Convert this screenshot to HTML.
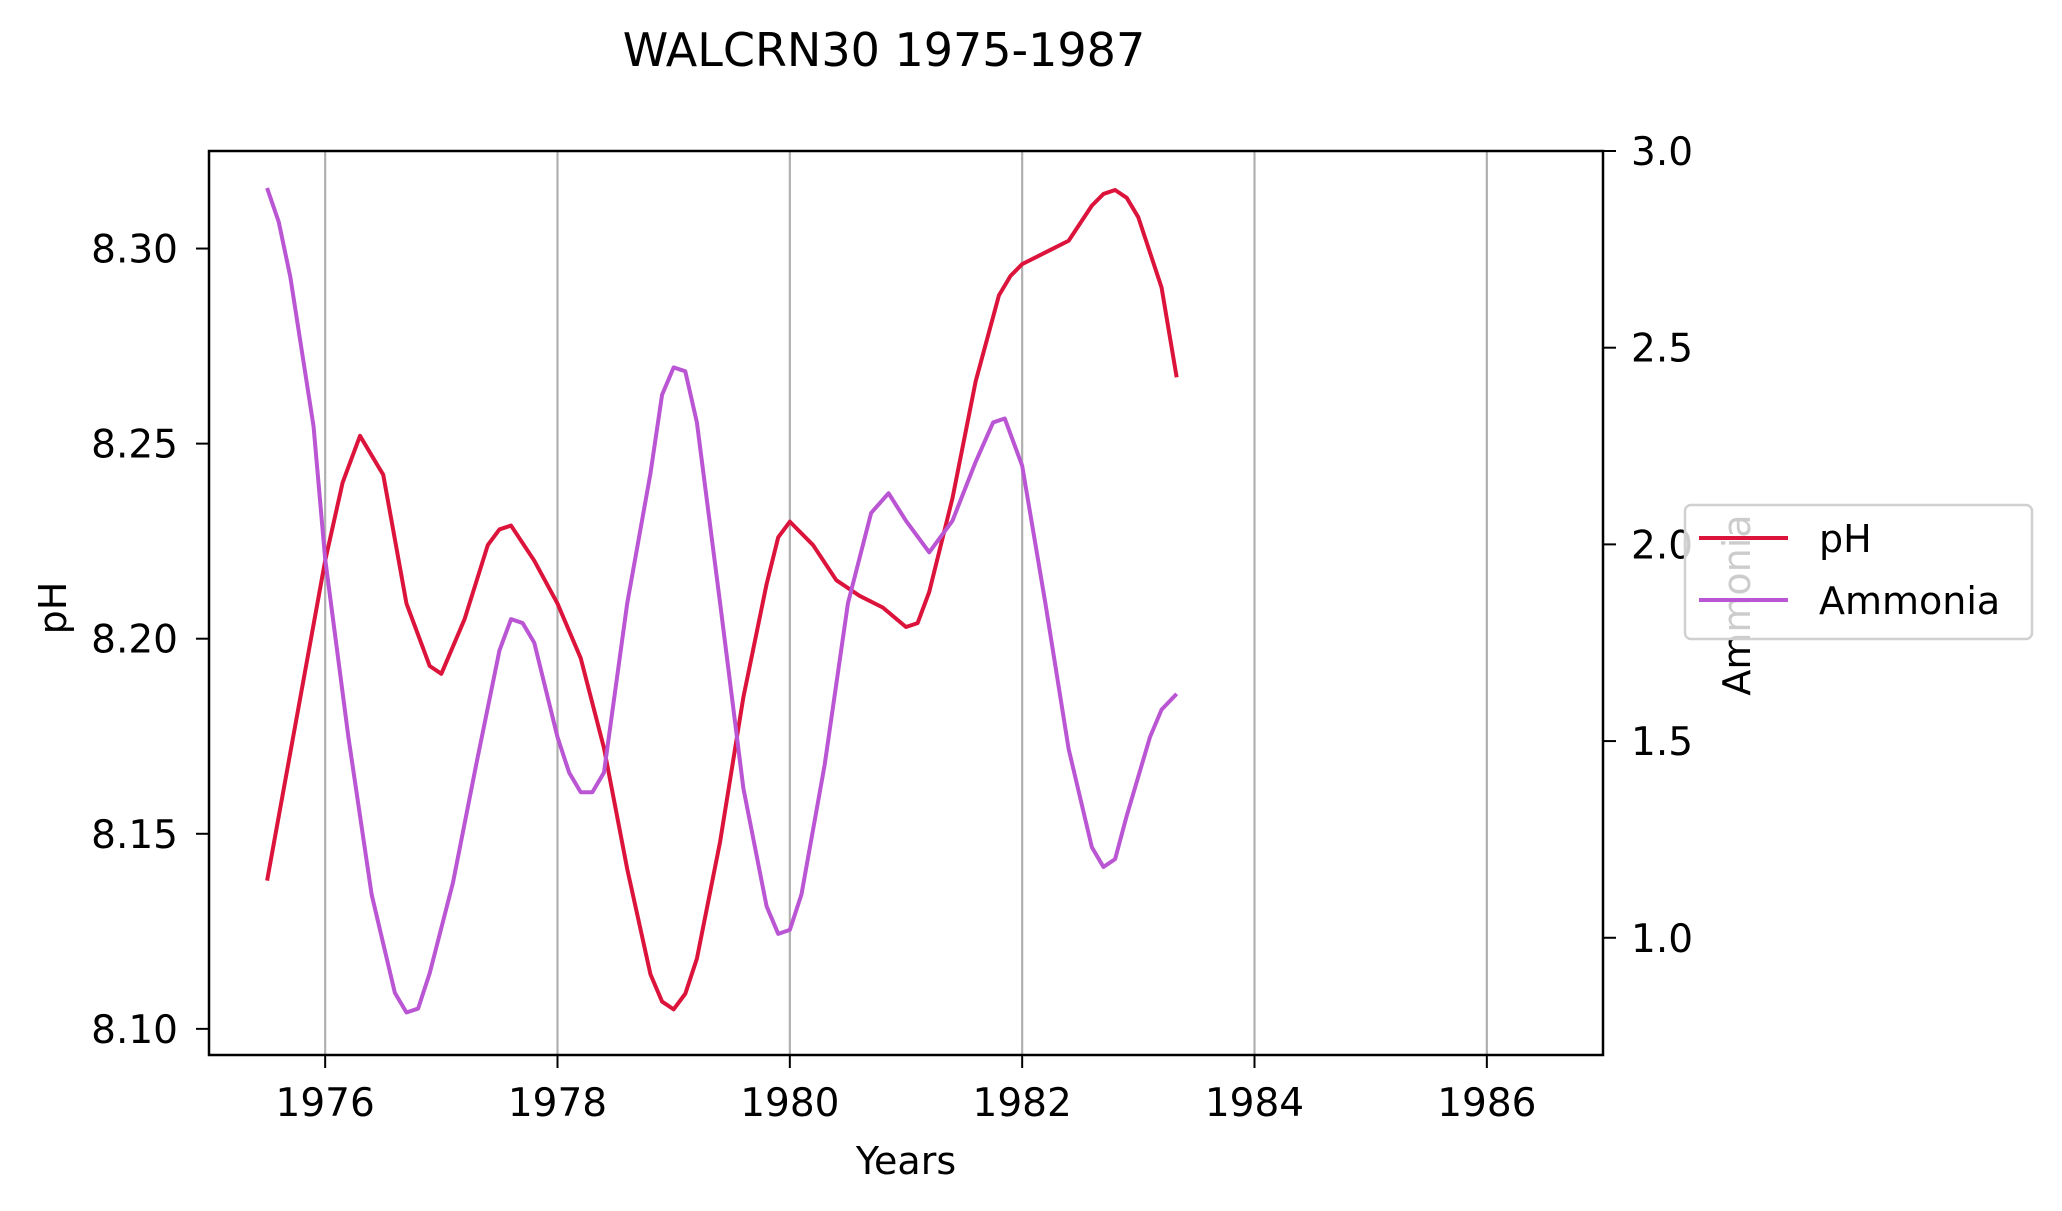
<!DOCTYPE html>
<html><head><meta charset="utf-8"><style>
html,body{margin:0;padding:0;background:#fff;}
svg{display:block;font-family:"DejaVu Sans","Liberation Sans",sans-serif;}
</style></head><body>
<svg id="chart" width="2062" height="1211" viewBox="0 0 2062 1211" xmlns="http://www.w3.org/2000/svg">
<rect width="2062" height="1211" fill="#fff"/>
<text x="884" y="66" font-size="46" text-anchor="middle">WALCRN30 1975-1987</text>
<g id="grid"></g>
<g id="series"></g>
<rect x="209" y="151" width="1394" height="904" fill="none" stroke="#000" stroke-width="2.5"/>
<g id="axes"></g>
<text x="906" y="1174" font-size="38" text-anchor="middle">Years</text>
<text transform="translate(66,608) rotate(-90)" font-size="38" text-anchor="middle">pH</text>
<text transform="translate(1750,605) rotate(-90)" font-size="38" text-anchor="middle">Ammonia</text>
<g>
<rect x="1685" y="505" width="347" height="134" rx="6" fill="rgba(255,255,255,0.8)" stroke="#d0d0d0" stroke-width="2.5"/>
<line x1="1699" y1="538" x2="1788" y2="538" stroke="#dc143c" stroke-width="4"/>
<text x="1819" y="552" font-size="38">pH</text>
<line x1="1699" y1="600" x2="1788" y2="600" stroke="#ba55d3" stroke-width="4"/>
<text x="1819" y="614" font-size="38">Ammonia</text>
</g>
</svg>
<script>
const years=[1975.5,1976.0,1976.15,1976.3,1976.5,1976.7,1976.9,1977.0,1977.2,1977.4,1977.5,1977.6,1977.8,1978.0,1978.2,1978.4,1978.6,1978.8,1978.9,1979.0,1979.1,1979.2,1979.4,1979.6,1979.8,1979.9,1980.0,1980.2,1980.4,1980.6,1980.8,1981.0,1981.1,1981.2,1981.4,1981.6,1981.8,1981.9,1982.0,1982.2,1982.4,1982.6,1982.7,1982.8,1982.9,1983.0,1983.2,1983.33];
const phValues=[8.138,8.220,8.240,8.252,8.242,8.209,8.193,8.191,8.205,8.224,8.228,8.229,8.220,8.209,8.195,8.172,8.141,8.114,8.107,8.105,8.109,8.118,8.148,8.185,8.214,8.226,8.230,8.224,8.215,8.211,8.208,8.203,8.204,8.212,8.236,8.266,8.288,8.293,8.296,8.299,8.302,8.311,8.314,8.315,8.313,8.308,8.290,8.267];
const nh3Years=[1975.5,1975.6,1975.7,1975.9,1976.0,1976.2,1976.4,1976.6,1976.7,1976.8,1976.9,1977.1,1977.3,1977.5,1977.6,1977.7,1977.8,1978.0,1978.1,1978.2,1978.3,1978.4,1978.6,1978.8,1978.9,1979.0,1979.1,1979.2,1979.4,1979.6,1979.8,1979.9,1980.0,1980.1,1980.3,1980.5,1980.7,1980.85,1981.0,1981.2,1981.4,1981.6,1981.75,1981.85,1982.0,1982.2,1982.4,1982.6,1982.7,1982.8,1982.9,1983.1,1983.2,1983.33];
const ammoniaValues=[2.906,2.82,2.68,2.30,1.963,1.51,1.11,0.86,0.81,0.82,0.91,1.14,1.44,1.73,1.81,1.80,1.75,1.51,1.42,1.37,1.37,1.42,1.85,2.18,2.38,2.45,2.44,2.31,1.85,1.38,1.08,1.01,1.02,1.11,1.44,1.85,2.08,2.13,2.06,1.98,2.06,2.21,2.31,2.32,2.20,1.85,1.48,1.23,1.18,1.20,1.31,1.51,1.58,1.62];
const xTicks=[1976,1978,1980,1982,1984,1986];
const phTicks=[8.10,8.15,8.20,8.25,8.30];
const nh3Ticks=[1.0,1.5,2.0,2.5,3.0];

const L=209,R=1603,T=151,B=1055;
const X=v=>L+(v-1975)/(1987-1975)*(R-L);
const Yp=v=>B-(v-8.0933)/(8.325-8.0933)*(B-T);
const Ya=v=>B-(v-0.702)/(3.0-0.702)*(B-T);
const NS="http://www.w3.org/2000/svg";
function mk(tag,attrs,parent){const e=document.createElementNS(NS,tag);for(const k in attrs)e.setAttribute(k,attrs[k]);parent.appendChild(e);return e;}
const grid=document.getElementById('grid'),axes=document.getElementById('axes'),series=document.getElementById('series');
xTicks.forEach(t=>{
  const x=X(t);
  const g=mk('line',{x1:x,y1:T,x2:x,y2:B,stroke:'#b0b0b0','stroke-width':2.2},grid);
  
  
  const tk=mk('line',{x1:x,y1:B,x2:x,y2:B+13,stroke:'#000','stroke-width':2},axes);
  
  
  const tx=mk('text',{x:x,y:B+61,'font-size':39,'text-anchor':'middle'},axes);
  tx.textContent=t;
  
  
});
phTicks.forEach(t=>{
  const y=Yp(t);
  const tk=mk('line',{x1:L-13,y1:y,x2:L,y2:y,stroke:'#000','stroke-width':2},axes);
  
  
  const tx=mk('text',{x:L-31,y:y+14,'font-size':39,'text-anchor':'end'},axes);
  tx.textContent=t.toFixed(2);
  
  
});
nh3Ticks.forEach(t=>{
  const y=Ya(t);
  const tk=mk('line',{x1:R,y1:y,x2:R+13,y2:y,stroke:'#000','stroke-width':2},axes);
  
  
  const tx=mk('text',{x:R+28,y:y+14,'font-size':39,'text-anchor':'start'},axes);
  tx.textContent=t.toFixed(1);
  
  
});
const pPh=mk('polyline',{points:years.map((y,i)=>X(y)+','+Yp(phValues[i])).join(' '),fill:'none',stroke:'#dc143c','stroke-width':4,'stroke-linejoin':'round'},series);


const pA=mk('polyline',{points:nh3Years.map((y,i)=>X(y)+','+Ya(ammoniaValues[i])).join(' '),fill:'none',stroke:'#ba55d3','stroke-width':4,'stroke-linejoin':'round'},series);


</script>
</body></html>
